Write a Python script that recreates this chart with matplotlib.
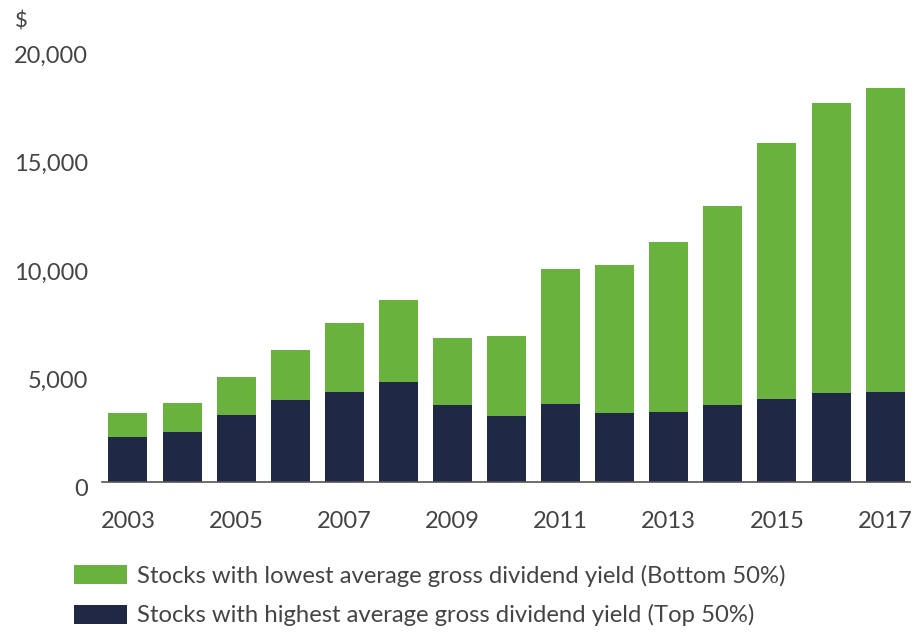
import matplotlib
matplotlib.use("Agg")
import matplotlib.pyplot as plt
import matplotlib.transforms as mtransforms
from matplotlib.patches import Patch
import numpy as np

years = [2003, 2004, 2005, 2006, 2007, 2008, 2009, 2010,
         2011, 2012, 2013, 2014, 2015, 2016, 2017]
# Dividend income from high-yield stocks (Top 50%)
top_yield = [2060, 2295, 3050, 3740, 4125, 4590, 3540, 3020,
             3555, 3160, 3200, 3540, 3800, 4080, 4125]
# Total dividend income (both groups stacked)
total = [3170, 3635, 4820, 6065, 7310, 8390, 6640, 6730,
         9825, 10010, 11060, 12700, 15630, 17480, 18170]
bottom_yield = [t - h for t, h in zip(total, top_yield)]

tick_years = [2003, 2005, 2007, 2009, 2011, 2013, 2015, 2017]
y_ticks = [0, 5000, 10000, 15000, 20000]
labels = ["Stocks with lowest average gross dividend yield (Bottom 50%)",
          "Stocks with highest average gross dividend yield (Top 50%)"]

GREEN = "#69b23e"
NAVY = "#1f2945"
TEXT = "#444444"

plt.rcParams["font.family"] = ["Lato", "DejaVu Sans"]

fig = plt.figure(figsize=(9.15, 6.34), dpi=100)
W, H = 915, 634
ax = fig.add_axes([102 / W, (H - 481.5) / H, (910 - 102) / W, 433.2 / H])

x = np.arange(len(years))
ax.bar(x, top_yield, width=0.72, color=NAVY, zorder=2)
ax.bar(x, bottom_yield, width=0.72, bottom=top_yield, color=GREEN, zorder=2)

ax.set_xlim(-0.48, 14.46)
ax.set_ylim(0, 20000)

for s in ["top", "right", "left"]:
    ax.spines[s].set_visible(False)
ax.spines["bottom"].set_color("#555555")
ax.spines["bottom"].set_linewidth(1.2)
ax.spines["bottom"].set_zorder(3)

ax.set_xticks([years.index(y) for y in tick_years])
ax.set_xticklabels([str(y) for y in tick_years])
ax.set_yticks(y_ticks)
ax.set_yticklabels([f"{v:,}" for v in y_ticks])
ax.tick_params(axis="both", length=0, labelsize=17, labelcolor=TEXT)
ax.tick_params(axis="x", pad=21)
ax.tick_params(axis="y", pad=10)

# nudge the value labels slightly downward
shift = mtransforms.ScaledTranslation(0, -6 / 100, fig.dpi_scale_trans)
for lbl in ax.get_yticklabels():
    lbl.set_transform(lbl.get_transform() + shift)

fig.text(15 / W, 1 - 22 / H, "$", fontsize=16, color=TEXT, va="center", ha="left")

handles = [Patch(facecolor=GREEN), Patch(facecolor=NAVY)]
fig.legend(handles, labels, loc="upper left",
           bbox_to_anchor=(74 / W, 1 - 565 / H), frameon=False,
           fontsize=17.2, labelcolor=TEXT, handlelength=2.2, handleheight=0.85,
           handletextpad=0.42, labelspacing=0.72, borderaxespad=0,
           borderpad=0)

fig.savefig("out.png", dpi=100)
